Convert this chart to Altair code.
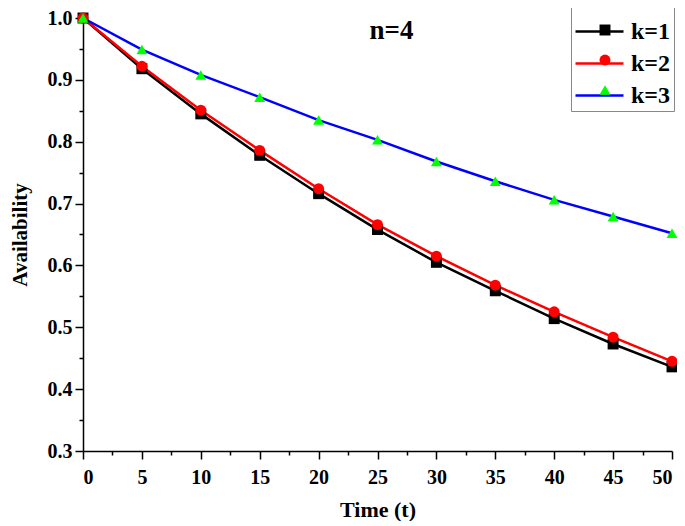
import altair as alt
import pandas as pd

time = [0, 5, 10, 15, 20, 25, 30, 35, 40, 45, 50]
k1 = [1.0, 0.918, 0.845, 0.778, 0.716, 0.658, 0.605, 0.559, 0.514, 0.473, 0.436]
k2 = [1.0, 0.922, 0.851, 0.786, 0.724, 0.666, 0.615, 0.568, 0.525, 0.484, 0.445]
k3 = [1.0, 0.949, 0.908, 0.872, 0.835, 0.803, 0.768, 0.736, 0.706, 0.679, 0.652]
series = ["k=1", "k=2", "k=3"]
line_colors = ["#000000", "#ff0000", "#0000ff"]
marker_colors = ["#000000", "#ff0000", "#00ff00"]
shapes = ["square", "circle", "triangle-up"]
x_ticks = [i * 2.5 for i in range(21)]
y_ticks = [round(0.3 + i * 0.05, 2) for i in range(15)]

rows = []
for name, vals in zip(series, [k1, k2, k3]):
    for t, v in zip(time, vals):
        rows.append({"t": t, "A": v, "k": name, "kp": name})
df = pd.DataFrame(rows)

FONT = "Liberation Serif"
LEG_X = 488
LEG_Y = -11
TITLE_SHIFT = 8

x_enc = alt.X(
    "t:Q",
    scale=alt.Scale(domain=[0, 50], nice=False, zero=False),
    axis=alt.Axis(
        values=x_ticks,
        title="Time (t)",
        labelExpr="datum.value % 5 === 0 ? datum.label : ''",
        tickSize={"condition": {"test": "datum.value % 5 === 0", "value": 8}, "value": 4},
        labelPadding=8,
        titlePadding=12,
    ),
)
y_enc = alt.Y(
    "A:Q",
    scale=alt.Scale(domain=[0.3, 1.0], nice=False, zero=False),
    axis=alt.Axis(
        values=y_ticks,
        title="Availability",
        labelExpr="round(datum.value * 20) % 2 === 0 ? format(datum.value, '.1f') : ''",
        tickSize={"condition": {"test": "round(datum.value * 20) % 2 === 0", "value": 8}, "value": 4},
        labelPadding=3,
        titlePadding=17,
        titleFontSize=21,
    ),
)

lines = alt.Chart(df).mark_line(strokeWidth=2.5).encode(
    x=x_enc,
    y=y_enc,
    color=alt.Color(
        "k:N",
        scale=alt.Scale(domain=series, range=line_colors),
        legend=alt.Legend(
            title=" ",
            titleFontSize=6,
            titlePadding=2,
            orient="none",
            legendX=LEG_X,
            legendY=LEG_Y,
            symbolType="M-1,0H3",
            symbolSize=576,
            symbolStrokeWidth=2.5,
            labelFont=FONT,
            labelFontSize=24,
            labelFontWeight="bold",
            labelColor="black",
            labelOffset=30,
            strokeColor="#888888",
            padding=3,
            rowPadding=6,
        ),
    ),
)

pt_legend = alt.Legend(
    title=None,
    orient="none",
    legendX=LEG_X + 19,
    legendY=LEG_Y + TITLE_SHIFT,
    symbolSize=120,
    symbolStrokeWidth=0,
    labelFont=FONT,
    labelFontSize=24,
    labelFontWeight="bold",
    labelExpr="' '",
    labelOpacity=0,
    padding=3,
    rowPadding=6,
)

points = alt.Chart(df).mark_point(filled=True, opacity=1).encode(
    x=x_enc,
    y=y_enc,
    fill=alt.Fill("kp:N", scale=alt.Scale(range=marker_colors), legend=pt_legend),
    shape=alt.Shape("kp:N", scale=alt.Scale(range=shapes), legend=pt_legend),
    size=alt.value(120),
)

chart = (
    alt.layer(lines, points)
    .properties(
        width=589,
        height=433,
        autosize=alt.AutoSizeParams(type="none"),
        padding={"left": 75, "top": 10, "right": 5, "bottom": 70},
        title=alt.TitleParams(
            "n=4",
            font=FONT,
            fontSize=27,
            fontWeight="bold",
            color="black",
            anchor="middle",
            frame="group",
            baseline="alphabetic",
            offset=0,
            dx=14,
            dy=59,
        ),
    )
    .configure_view(stroke=None)
    .configure_axis(
        grid=False,
        domainColor="black",
        domainWidth=1.5,
        tickColor="black",
        tickWidth=1.5,
        labelFont=FONT,
        labelFontSize=20,
        labelFontWeight="bold",
        labelColor="black",
        titleFont=FONT,
        titleFontSize=22,
        titleFontWeight="bold",
        titleColor="black",
    )
)

chart.save("out.html", embed_options={"renderer": "svg", "actions": False})
